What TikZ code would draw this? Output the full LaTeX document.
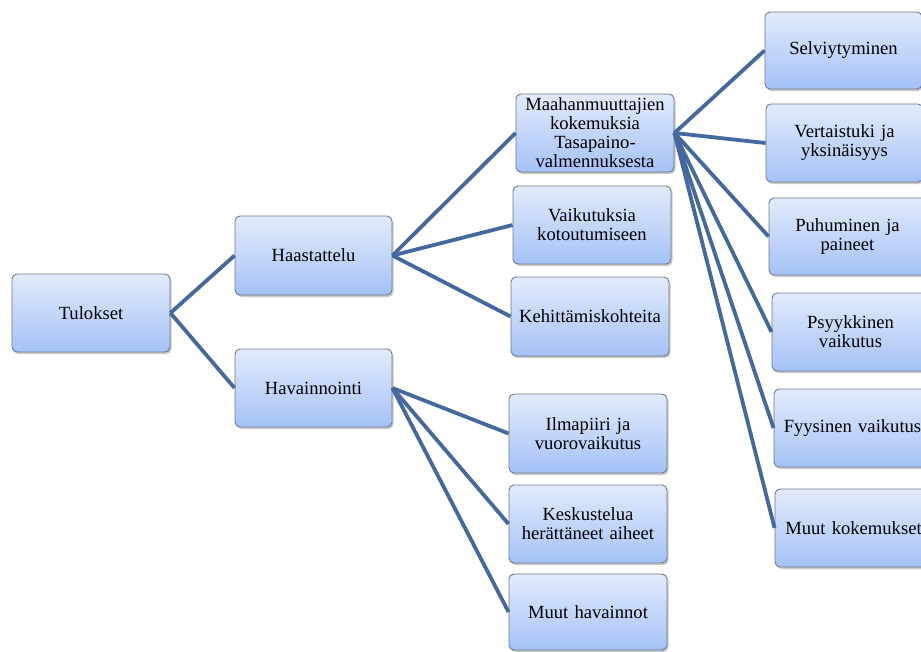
\documentclass[tikz,border=0pt]{standalone}
\usepackage{fontspec}
\setmainfont{Liberation Serif}
\usetikzlibrary{shadows}
\definecolor{linkc}{HTML}{44699E}
\definecolor{boxtop}{HTML}{E2EBFB}
\definecolor{boxbot}{HTML}{A4C2F7}
\definecolor{boxedge}{HTML}{6E7A88}
\begin{document}
\begin{tikzpicture}[x=1pt,y=-1pt,
  box/.style={draw=boxedge, line width=0.9pt, rounded corners=5pt,
    top color=boxtop, bottom color=boxbot, align=center,
    font=\fontsize{18.6}{19}\selectfont, inner sep=1pt,
    drop shadow={shadow xshift=1.5pt, shadow yshift=-2pt, opacity=0.35, fill=black!60}},
  link/.style={draw=linkc, line width=3.8pt}]
\useasboundingbox (0,0) rectangle (921,651);
\begin{scope}
\clip (0,0) rectangle (921,651);
\newcommand{\bx}[6]{\node[box, minimum width=#4pt, minimum height=#5pt, text width=#4pt-2pt] (#1) at (#2,#3) {#6};}
\bx{tul}{91}{313}{158}{78}{Tulokset}
\bx{haa}{313.5}{255.5}{157}{79}{Haastattelu}
\bx{hav}{313.5}{388}{157}{78}{Havainnointi}
\bx{maa}{595}{133}{158}{78}{Maahanmuuttajien\\kokemuksia\\Tasapaino-\\valmennuksesta}
\bx{vai}{592}{225}{158}{78}{Vaikutuksia\\kotoutumiseen}
\bx{keh}{590}{316.5}{158}{79}{Kehittämiskohteita}
\bx{ilm}{588}{433.5}{158}{79}{Ilmapiiri ja\\vuorovaikutus}
\bx{kes}{588}{524}{158}{78}{Keskustelua\\herättäneet aiheet}
\bx{muh}{588}{612}{158}{76}{Muut havainnot}
\bx{sel}{843.5}{50.5}{157}{77}{Selviytyminen}
\bx{ver}{844.5}{143}{157}{78}{Vertaistuki ja\\yksinäisyys}
\bx{puh}{847.5}{236.5}{157}{77}{Puhuminen ja\\paineet}
\bx{psy}{850.5}{332}{157}{78}{Psyykkinen\\vaikutus}
\bx{fyy}{852.5}{428}{157}{78}{Fyysinen vaikutus}
\bx{muk}{853.5}{528}{157}{78}{Muut kokemukset}
\end{scope}
\path[link] (tul.east) -- (haa.west);
\path[link] (tul.east) -- (hav.west);
\path[link] (haa.east) -- (maa.west);
\path[link] (haa.east) -- (vai.west);
\path[link] (haa.east) -- (keh.west);
\path[link] (hav.east) -- (ilm.west);
\path[link] (hav.east) -- (kes.west);
\path[link] (hav.east) -- (muh.west);
\path[link] (maa.east) -- (sel.west);
\path[link] (maa.east) -- (ver.west);
\path[link] (maa.east) -- (puh.west);
\path[link] (maa.east) -- (psy.west);
\path[link] (maa.east) -- (fyy.west);
\path[link] (maa.east) -- (muk.west);
\end{tikzpicture}
\end{document}
